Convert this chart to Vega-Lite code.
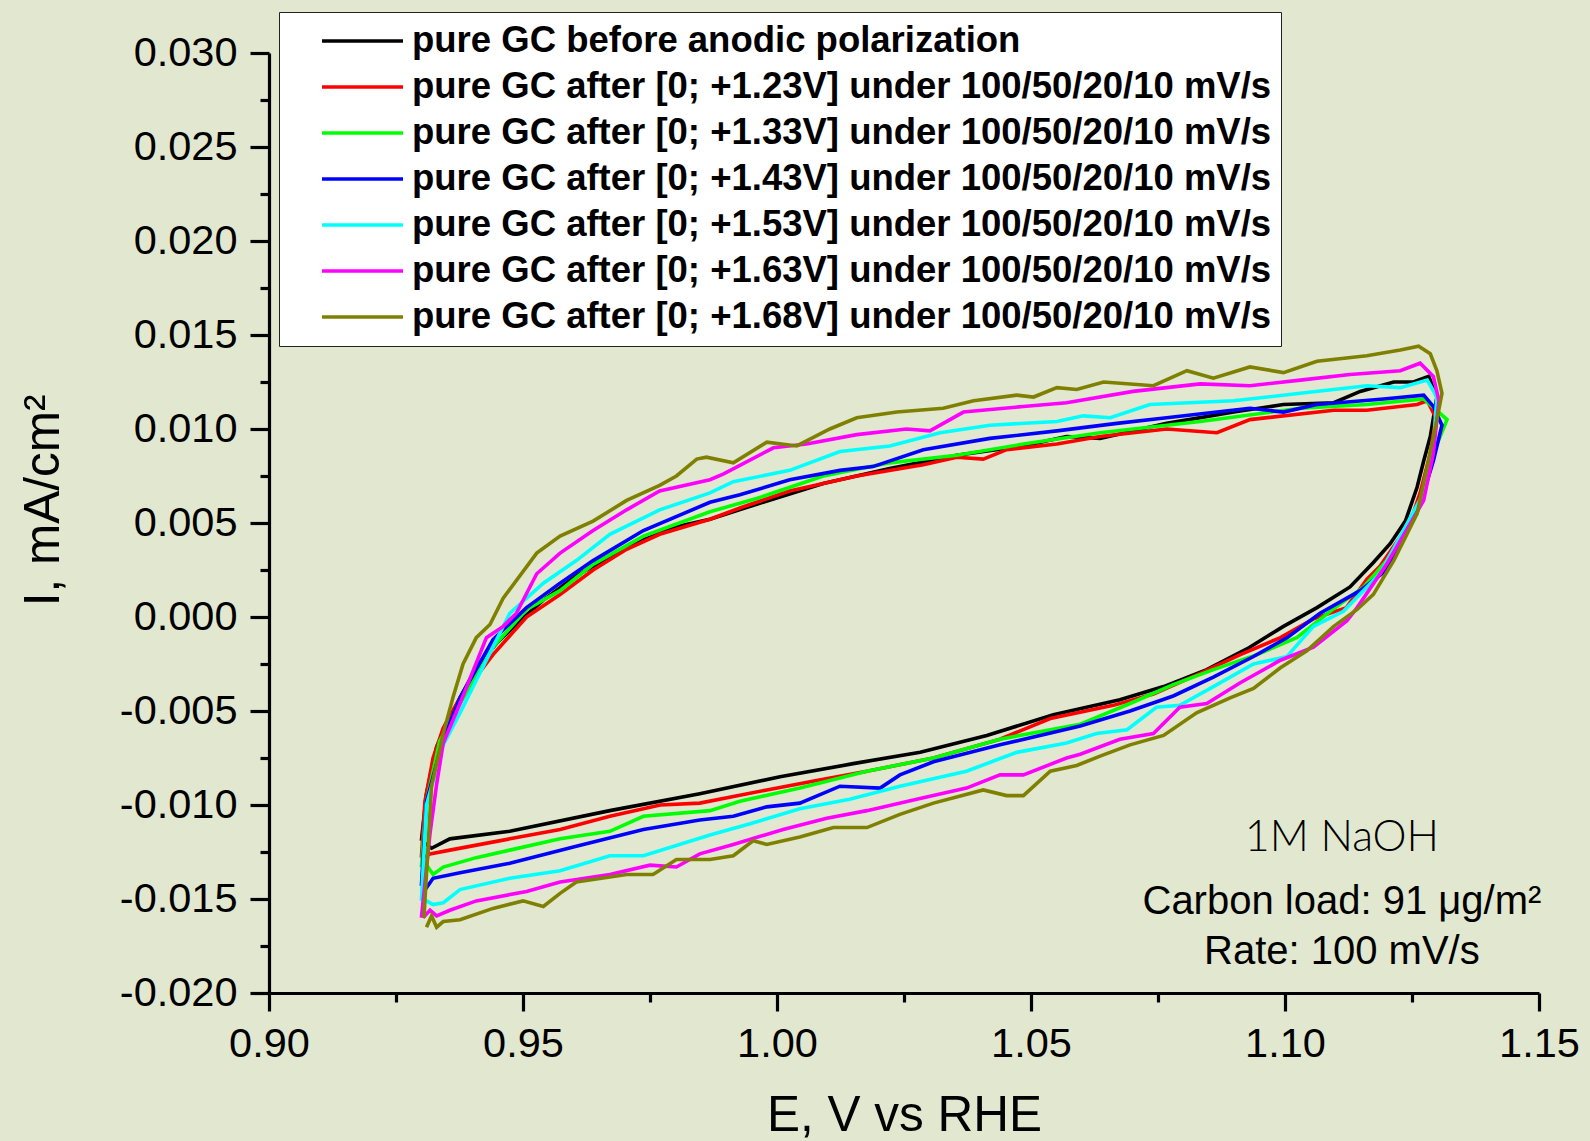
{
"$schema":"https://vega.github.io/schema/vega-lite/v6.json",
"width":1270,"height":940,
"autosize":{"type":"none"},
"padding":{"left":269,"top":53,"right":51,"bottom":148},
"background":"#E2E8CF",
"config":{"view":{"stroke":null},"axis":{"grid":false,"labelFont":"Liberation Sans","labelFontSize":41.5,"labelColor":"black","domainColor":"black","tickColor":"black","domainWidth":3,"tickWidth":3,"labelFlush":false,"labelOverlap":false,"labelBound":false,"titleFont":"Liberation Sans","titleFontSize":49.5,"titleFontWeight":"normal","titleColor":"black"}},
"datasets":{
"names":[
{"k":"a","series":"pure GC before anodic polarization"},
{"k":"b","series":"pure GC after [0; +1.23V] under 100/50/20/10 mV/s"},
{"k":"c","series":"pure GC after [0; +1.33V] under 100/50/20/10 mV/s"},
{"k":"d","series":"pure GC after [0; +1.43V] under 100/50/20/10 mV/s"},
{"k":"e","series":"pure GC after [0; +1.53V] under 100/50/20/10 mV/s"},
{"k":"f","series":"pure GC after [0; +1.63V] under 100/50/20/10 mV/s"},
{"k":"g","series":"pure GC after [0; +1.68V] under 100/50/20/10 mV/s"}],
"notes1":[{"E":1.1112,"I":-0.01246,"t":"1M NaOH"}],
"notes2":[{"E":1.1112,"I":-0.01581,"t":"Carbon load: 91 μg/m²"},{"E":1.1112,"I":-0.01847,"t":"Rate: 100 mV/s"}],
"cv":[
{"k":"a","o":1,"E":0.9300,"I":-0.0119},{"k":"a","o":2,"E":0.9310,"I":-0.0094},{"k":"a","o":3,"E":0.9330,"I":-0.0069},{"k":"a","o":4,"E":0.9349,"I":-0.0058},{"k":"a","o":5,"E":0.9376,"I":-0.0043},{"k":"a","o":6,"E":0.9408,"I":-0.0027},{"k":"a","o":7,"E":0.9448,"I":-0.0014},{"k":"a","o":8,"E":0.9494,"I":-0.0002},{"k":"a","o":9,"E":0.9540,"I":0.0009},{"k":"a","o":10,"E":0.9605,"I":0.0022},{"k":"a","o":11,"E":0.9671,"I":0.0032},{"k":"a","o":12,"E":0.9737,"I":0.0041},{"k":"a","o":13,"E":0.9802,"I":0.0048},{"k":"a","o":14,"E":0.9868,"I":0.0052},{"k":"a","o":15,"E":0.9960,"I":0.0060},{"k":"a","o":16,"E":1.0091,"I":0.0071},{"k":"a","o":17,"E":1.0222,"I":0.0079},{"k":"a","o":18,"E":1.0354,"I":0.0086},{"k":"a","o":19,"E":1.0485,"I":0.0091},{"k":"a","o":20,"E":1.0570,"I":0.0096},{"k":"a","o":21,"E":1.0636,"I":0.0095},{"k":"a","o":22,"E":1.0767,"I":0.0103},{"k":"a","o":23,"E":1.0899,"I":0.0109},{"k":"a","o":24,"E":1.0997,"I":0.0113},{"k":"a","o":25,"E":1.1096,"I":0.0114},{"k":"a","o":26,"E":1.1148,"I":0.0120},{"k":"a","o":27,"E":1.1214,"I":0.0125},{"k":"a","o":28,"E":1.1253,"I":0.0125},{"k":"a","o":29,"E":1.1283,"I":0.0128},{"k":"a","o":30,"E":1.1299,"I":0.0117},{"k":"a","o":31,"E":1.1286,"I":0.0096},{"k":"a","o":32,"E":1.1273,"I":0.0083},{"k":"a","o":33,"E":1.1260,"I":0.0069},{"k":"a","o":34,"E":1.1237,"I":0.0051},{"k":"a","o":35,"E":1.1207,"I":0.0039},{"k":"a","o":36,"E":1.1174,"I":0.0029},{"k":"a","o":37,"E":1.1128,"I":0.0016},{"k":"a","o":38,"E":1.1063,"I":0.0005},{"k":"a","o":39,"E":1.0997,"I":-0.0005},{"k":"a","o":40,"E":1.0925,"I":-0.0017},{"k":"a","o":41,"E":1.0846,"I":-0.0028},{"k":"a","o":42,"E":1.0761,"I":-0.0037},{"k":"a","o":43,"E":1.0675,"I":-0.0044},{"k":"a","o":44,"E":1.0544,"I":-0.0052},{"k":"a","o":45,"E":1.0413,"I":-0.0063},{"k":"a","o":46,"E":1.0282,"I":-0.0072},{"k":"a","o":47,"E":1.0150,"I":-0.0078},{"k":"a","o":48,"E":1.0006,"I":-0.0085},{"k":"a","o":49,"E":0.9848,"I":-0.0094},{"k":"a","o":50,"E":0.9671,"I":-0.0103},{"k":"a","o":51,"E":0.9474,"I":-0.0114},{"k":"a","o":52,"E":0.9356,"I":-0.0118},{"k":"a","o":53,"E":0.9320,"I":-0.0123},{"k":"a","o":54,"E":0.9305,"I":-0.0120},
{"k":"b","o":1,"E":0.9300,"I":-0.0128},{"k":"b","o":2,"E":0.9307,"I":-0.0098},{"k":"b","o":3,"E":0.9323,"I":-0.0075},{"k":"b","o":4,"E":0.9343,"I":-0.0059},{"k":"b","o":5,"E":0.9376,"I":-0.0043},{"k":"b","o":6,"E":0.9441,"I":-0.0020},{"k":"b","o":7,"E":0.9507,"I":0.0000},{"k":"b","o":8,"E":0.9573,"I":0.0012},{"k":"b","o":9,"E":0.9638,"I":0.0025},{"k":"b","o":10,"E":0.9704,"I":0.0036},{"k":"b","o":11,"E":0.9769,"I":0.0044},{"k":"b","o":12,"E":0.9868,"I":0.0052},{"k":"b","o":13,"E":0.9927,"I":0.0058},{"k":"b","o":14,"E":1.0025,"I":0.0067},{"k":"b","o":15,"E":1.0157,"I":0.0075},{"k":"b","o":16,"E":1.0288,"I":0.0081},{"k":"b","o":17,"E":1.0354,"I":0.0085},{"k":"b","o":18,"E":1.0406,"I":0.0084},{"k":"b","o":19,"E":1.0452,"I":0.0089},{"k":"b","o":20,"E":1.0551,"I":0.0092},{"k":"b","o":21,"E":1.0636,"I":0.0096},{"k":"b","o":22,"E":1.0767,"I":0.0100},{"k":"b","o":23,"E":1.0866,"I":0.0098},{"k":"b","o":24,"E":1.0931,"I":0.0105},{"k":"b","o":25,"E":1.1096,"I":0.0110},{"k":"b","o":26,"E":1.1161,"I":0.0110},{"k":"b","o":27,"E":1.1260,"I":0.0113},{"k":"b","o":28,"E":1.1280,"I":0.0115},{"k":"b","o":29,"E":1.1297,"I":0.0106},{"k":"b","o":30,"E":1.1286,"I":0.0087},{"k":"b","o":31,"E":1.1266,"I":0.0066},{"k":"b","o":32,"E":1.1246,"I":0.0050},{"k":"b","o":33,"E":1.1187,"I":0.0027},{"k":"b","o":34,"E":1.1161,"I":0.0020},{"k":"b","o":35,"E":1.1121,"I":0.0005},{"k":"b","o":36,"E":1.1056,"I":-0.0001},{"k":"b","o":37,"E":1.0991,"I":-0.0011},{"k":"b","o":38,"E":1.0912,"I":-0.0020},{"k":"b","o":39,"E":1.0833,"I":-0.0030},{"k":"b","o":40,"E":1.0741,"I":-0.0041},{"k":"b","o":41,"E":1.0662,"I":-0.0047},{"k":"b","o":42,"E":1.0538,"I":-0.0054},{"k":"b","o":43,"E":1.0439,"I":-0.0065},{"k":"b","o":44,"E":1.0308,"I":-0.0075},{"k":"b","o":45,"E":1.0177,"I":-0.0082},{"k":"b","o":46,"E":1.0078,"I":-0.0087},{"k":"b","o":47,"E":0.9980,"I":-0.0092},{"k":"b","o":48,"E":0.9848,"I":-0.0099},{"k":"b","o":49,"E":0.9770,"I":-0.0100},{"k":"b","o":50,"E":0.9671,"I":-0.0106},{"k":"b","o":51,"E":0.9573,"I":-0.0113},{"k":"b","o":52,"E":0.9474,"I":-0.0118},{"k":"b","o":53,"E":0.9356,"I":-0.0124},{"k":"b","o":54,"E":0.9317,"I":-0.0126},{"k":"b","o":55,"E":0.9302,"I":-0.0128},
{"k":"c","o":1,"E":0.9300,"I":-0.0133},{"k":"c","o":2,"E":0.9310,"I":-0.0098},{"k":"c","o":3,"E":0.9336,"I":-0.0066},{"k":"c","o":4,"E":0.9376,"I":-0.0046},{"k":"c","o":5,"E":0.9441,"I":-0.0016},{"k":"c","o":6,"E":0.9507,"I":0.0004},{"k":"c","o":7,"E":0.9573,"I":0.0014},{"k":"c","o":8,"E":0.9638,"I":0.0028},{"k":"c","o":9,"E":0.9737,"I":0.0043},{"k":"c","o":10,"E":0.9868,"I":0.0056},{"k":"c","o":11,"E":0.9960,"I":0.0063},{"k":"c","o":12,"E":1.0091,"I":0.0075},{"k":"c","o":13,"E":1.0222,"I":0.0082},{"k":"c","o":14,"E":1.0354,"I":0.0086},{"k":"c","o":15,"E":1.0485,"I":0.0092},{"k":"c","o":16,"E":1.0636,"I":0.0098},{"k":"c","o":17,"E":1.0833,"I":0.0104},{"k":"c","o":18,"E":1.1030,"I":0.0111},{"k":"c","o":19,"E":1.1161,"I":0.0113},{"k":"c","o":20,"E":1.1273,"I":0.0116},{"k":"c","o":21,"E":1.1319,"I":0.0105},{"k":"c","o":22,"E":1.1292,"I":0.0087},{"k":"c","o":23,"E":1.1273,"I":0.0069},{"k":"c","o":24,"E":1.1260,"I":0.0055},{"k":"c","o":25,"E":1.1200,"I":0.0030},{"k":"c","o":26,"E":1.1155,"I":0.0016},{"k":"c","o":27,"E":1.1089,"I":0.0003},{"k":"c","o":28,"E":1.1023,"I":-0.0011},{"k":"c","o":29,"E":1.0945,"I":-0.0020},{"k":"c","o":30,"E":1.0859,"I":-0.0028},{"k":"c","o":31,"E":1.0780,"I":-0.0036},{"k":"c","o":32,"E":1.0695,"I":-0.0046},{"k":"c","o":33,"E":1.0597,"I":-0.0057},{"k":"c","o":34,"E":1.0439,"I":-0.0065},{"k":"c","o":35,"E":1.0308,"I":-0.0075},{"k":"c","o":36,"E":1.0177,"I":-0.0082},{"k":"c","o":37,"E":1.0045,"I":-0.0091},{"k":"c","o":38,"E":0.9927,"I":-0.0098},{"k":"c","o":39,"E":0.9868,"I":-0.0103},{"k":"c","o":40,"E":0.9737,"I":-0.0106},{"k":"c","o":41,"E":0.9671,"I":-0.0114},{"k":"c","o":42,"E":0.9573,"I":-0.0118},{"k":"c","o":43,"E":0.9474,"I":-0.0124},{"k":"c","o":44,"E":0.9408,"I":-0.0128},{"k":"c","o":45,"E":0.9343,"I":-0.0133},{"k":"c","o":46,"E":0.9323,"I":-0.0137},{"k":"c","o":47,"E":0.9313,"I":-0.0133},{"k":"c","o":48,"E":0.9302,"I":-0.0134},
{"k":"d","o":1,"E":0.9300,"I":-0.0143},{"k":"d","o":2,"E":0.9310,"I":-0.0098},{"k":"d","o":3,"E":0.9343,"I":-0.0065},{"k":"d","o":4,"E":0.9376,"I":-0.0043},{"k":"d","o":5,"E":0.9441,"I":-0.0012},{"k":"d","o":6,"E":0.9507,"I":0.0005},{"k":"d","o":7,"E":0.9573,"I":0.0018},{"k":"d","o":8,"E":0.9638,"I":0.0030},{"k":"d","o":9,"E":0.9737,"I":0.0046},{"k":"d","o":10,"E":0.9868,"I":0.0061},{"k":"d","o":11,"E":0.9927,"I":0.0065},{"k":"d","o":12,"E":1.0025,"I":0.0073},{"k":"d","o":13,"E":1.0124,"I":0.0078},{"k":"d","o":14,"E":1.0189,"I":0.0080},{"k":"d","o":15,"E":1.0288,"I":0.0089},{"k":"d","o":16,"E":1.0419,"I":0.0095},{"k":"d","o":17,"E":1.0551,"I":0.0099},{"k":"d","o":18,"E":1.0669,"I":0.0103},{"k":"d","o":19,"E":1.0767,"I":0.0106},{"k":"d","o":20,"E":1.0866,"I":0.0109},{"k":"d","o":21,"E":1.0931,"I":0.0111},{"k":"d","o":22,"E":1.0997,"I":0.0109},{"k":"d","o":23,"E":1.1063,"I":0.0113},{"k":"d","o":24,"E":1.1194,"I":0.0116},{"k":"d","o":25,"E":1.1273,"I":0.0118},{"k":"d","o":26,"E":1.1292,"I":0.0112},{"k":"d","o":27,"E":1.1309,"I":0.0102},{"k":"d","o":28,"E":1.1292,"I":0.0083},{"k":"d","o":29,"E":1.1273,"I":0.0066},{"k":"d","o":30,"E":1.1200,"I":0.0025},{"k":"d","o":31,"E":1.1148,"I":0.0014},{"k":"d","o":32,"E":1.1069,"I":0.0002},{"k":"d","o":33,"E":1.1004,"I":-0.0011},{"k":"d","o":34,"E":1.0938,"I":-0.0021},{"k":"d","o":35,"E":1.0859,"I":-0.0032},{"k":"d","o":36,"E":1.0780,"I":-0.0042},{"k":"d","o":37,"E":1.0695,"I":-0.0050},{"k":"d","o":38,"E":1.0597,"I":-0.0058},{"k":"d","o":39,"E":1.0439,"I":-0.0068},{"k":"d","o":40,"E":1.0308,"I":-0.0077},{"k":"d","o":41,"E":1.0242,"I":-0.0084},{"k":"d","o":42,"E":1.0203,"I":-0.0091},{"k":"d","o":43,"E":1.0124,"I":-0.0090},{"k":"d","o":44,"E":1.0045,"I":-0.0099},{"k":"d","o":45,"E":0.9980,"I":-0.0101},{"k":"d","o":46,"E":0.9914,"I":-0.0106},{"k":"d","o":47,"E":0.9848,"I":-0.0108},{"k":"d","o":48,"E":0.9737,"I":-0.0113},{"k":"d","o":49,"E":0.9605,"I":-0.0122},{"k":"d","o":50,"E":0.9474,"I":-0.0131},{"k":"d","o":51,"E":0.9376,"I":-0.0136},{"k":"d","o":52,"E":0.9323,"I":-0.0139},{"k":"d","o":53,"E":0.9310,"I":-0.0144},{"k":"d","o":54,"E":0.9302,"I":-0.0143},
{"k":"e","o":1,"E":0.9300,"I":-0.0151},{"k":"e","o":2,"E":0.9310,"I":-0.0100},{"k":"e","o":3,"E":0.9343,"I":-0.0068},{"k":"e","o":4,"E":0.9376,"I":-0.0051},{"k":"e","o":5,"E":0.9474,"I":0.0002},{"k":"e","o":6,"E":0.9540,"I":0.0018},{"k":"e","o":7,"E":0.9605,"I":0.0030},{"k":"e","o":8,"E":0.9671,"I":0.0044},{"k":"e","o":9,"E":0.9769,"I":0.0057},{"k":"e","o":10,"E":0.9868,"I":0.0066},{"k":"e","o":11,"E":0.9914,"I":0.0072},{"k":"e","o":12,"E":1.0025,"I":0.0078},{"k":"e","o":13,"E":1.0124,"I":0.0088},{"k":"e","o":14,"E":1.0222,"I":0.0091},{"k":"e","o":15,"E":1.0321,"I":0.0098},{"k":"e","o":16,"E":1.0419,"I":0.0102},{"k":"e","o":17,"E":1.0551,"I":0.0104},{"k":"e","o":18,"E":1.0603,"I":0.0107},{"k":"e","o":19,"E":1.0656,"I":0.0106},{"k":"e","o":20,"E":1.0734,"I":0.0113},{"k":"e","o":21,"E":1.0899,"I":0.0115},{"k":"e","o":22,"E":1.1030,"I":0.0119},{"k":"e","o":23,"E":1.1161,"I":0.0123},{"k":"e","o":24,"E":1.1227,"I":0.0122},{"k":"e","o":25,"E":1.1280,"I":0.0126},{"k":"e","o":26,"E":1.1299,"I":0.0117},{"k":"e","o":27,"E":1.1292,"I":0.0090},{"k":"e","o":28,"E":1.1273,"I":0.0066},{"k":"e","o":29,"E":1.1187,"I":0.0023},{"k":"e","o":30,"E":1.1115,"I":0.0003},{"k":"e","o":31,"E":1.1056,"I":-0.0005},{"k":"e","o":32,"E":1.1004,"I":-0.0021},{"k":"e","o":33,"E":1.0938,"I":-0.0025},{"k":"e","o":34,"E":1.0859,"I":-0.0037},{"k":"e","o":35,"E":1.0793,"I":-0.0047},{"k":"e","o":36,"E":1.0747,"I":-0.0048},{"k":"e","o":37,"E":1.0689,"I":-0.0060},{"k":"e","o":38,"E":1.0629,"I":-0.0062},{"k":"e","o":39,"E":1.0570,"I":-0.0067},{"k":"e","o":40,"E":1.0472,"I":-0.0072},{"k":"e","o":41,"E":1.0373,"I":-0.0082},{"k":"e","o":42,"E":1.0242,"I":-0.0090},{"k":"e","o":43,"E":1.0143,"I":-0.0097},{"k":"e","o":44,"E":1.0045,"I":-0.0102},{"k":"e","o":45,"E":0.9947,"I":-0.0110},{"k":"e","o":46,"E":0.9868,"I":-0.0116},{"k":"e","o":47,"E":0.9737,"I":-0.0127},{"k":"e","o":48,"E":0.9671,"I":-0.0127},{"k":"e","o":49,"E":0.9573,"I":-0.0135},{"k":"e","o":50,"E":0.9474,"I":-0.0139},{"k":"e","o":51,"E":0.9376,"I":-0.0145},{"k":"e","o":52,"E":0.9343,"I":-0.0152},{"k":"e","o":53,"E":0.9323,"I":-0.0153},{"k":"e","o":54,"E":0.9310,"I":-0.0151},{"k":"e","o":55,"E":0.9302,"I":-0.0151},
{"k":"f","o":1,"E":0.9300,"I":-0.0160},{"k":"f","o":2,"E":0.9317,"I":-0.0115},{"k":"f","o":3,"E":0.9330,"I":-0.0089},{"k":"f","o":4,"E":0.9343,"I":-0.0067},{"k":"f","o":5,"E":0.9376,"I":-0.0046},{"k":"f","o":6,"E":0.9428,"I":-0.0011},{"k":"f","o":7,"E":0.9461,"I":-0.0005},{"k":"f","o":8,"E":0.9487,"I":0.0002},{"k":"f","o":9,"E":0.9527,"I":0.0023},{"k":"f","o":10,"E":0.9573,"I":0.0034},{"k":"f","o":11,"E":0.9638,"I":0.0046},{"k":"f","o":12,"E":0.9704,"I":0.0057},{"k":"f","o":13,"E":0.9769,"I":0.0067},{"k":"f","o":14,"E":0.9868,"I":0.0073},{"k":"f","o":15,"E":0.9894,"I":0.0076},{"k":"f","o":16,"E":0.9993,"I":0.0090},{"k":"f","o":17,"E":1.0058,"I":0.0092},{"k":"f","o":18,"E":1.0157,"I":0.0097},{"k":"f","o":19,"E":1.0255,"I":0.0100},{"k":"f","o":20,"E":1.0301,"I":0.0099},{"k":"f","o":21,"E":1.0367,"I":0.0109},{"k":"f","o":22,"E":1.0485,"I":0.0112},{"k":"f","o":23,"E":1.0570,"I":0.0114},{"k":"f","o":24,"E":1.0701,"I":0.0120},{"k":"f","o":25,"E":1.0833,"I":0.0124},{"k":"f","o":26,"E":1.0931,"I":0.0123},{"k":"f","o":27,"E":1.1030,"I":0.0126},{"k":"f","o":28,"E":1.1128,"I":0.0129},{"k":"f","o":29,"E":1.1227,"I":0.0131},{"k":"f","o":30,"E":1.1266,"I":0.0135},{"k":"f","o":31,"E":1.1292,"I":0.0128},{"k":"f","o":32,"E":1.1303,"I":0.0115},{"k":"f","o":33,"E":1.1292,"I":0.0087},{"k":"f","o":34,"E":1.1273,"I":0.0062},{"k":"f","o":35,"E":1.1200,"I":0.0028},{"k":"f","o":36,"E":1.1142,"I":0.0005},{"k":"f","o":37,"E":1.1122,"I":-0.0002},{"k":"f","o":38,"E":1.1056,"I":-0.0016},{"k":"f","o":39,"E":1.0991,"I":-0.0023},{"k":"f","o":40,"E":1.0912,"I":-0.0035},{"k":"f","o":41,"E":1.0846,"I":-0.0046},{"k":"f","o":42,"E":1.0793,"I":-0.0048},{"k":"f","o":43,"E":1.0741,"I":-0.0062},{"k":"f","o":44,"E":1.0675,"I":-0.0065},{"k":"f","o":45,"E":1.0597,"I":-0.0073},{"k":"f","o":46,"E":1.0570,"I":-0.0075},{"k":"f","o":47,"E":1.0485,"I":-0.0084},{"k":"f","o":48,"E":1.0439,"I":-0.0084},{"k":"f","o":49,"E":1.0373,"I":-0.0091},{"k":"f","o":50,"E":1.0275,"I":-0.0097},{"k":"f","o":51,"E":1.0177,"I":-0.0103},{"k":"f","o":52,"E":1.0098,"I":-0.0107},{"k":"f","o":53,"E":1.0012,"I":-0.0113},{"k":"f","o":54,"E":0.9914,"I":-0.0121},{"k":"f","o":55,"E":0.9848,"I":-0.0126},{"k":"f","o":56,"E":0.9802,"I":-0.0133},{"k":"f","o":57,"E":0.9750,"I":-0.0132},{"k":"f","o":58,"E":0.9671,"I":-0.0137},{"k":"f","o":59,"E":0.9573,"I":-0.0141},{"k":"f","o":60,"E":0.9507,"I":-0.0146},{"k":"f","o":61,"E":0.9408,"I":-0.0151},{"k":"f","o":62,"E":0.9356,"I":-0.0156},{"k":"f","o":63,"E":0.9330,"I":-0.0159},{"k":"f","o":64,"E":0.9317,"I":-0.0156},{"k":"f","o":65,"E":0.9303,"I":-0.0160},
{"k":"g","o":1,"E":0.9305,"I":-0.0160},{"k":"g","o":2,"E":0.9320,"I":-0.0090},{"k":"g","o":3,"E":0.9343,"I":-0.0062},{"k":"g","o":4,"E":0.9362,"I":-0.0043},{"k":"g","o":5,"E":0.9382,"I":-0.0025},{"k":"g","o":6,"E":0.9408,"I":-0.0011},{"k":"g","o":7,"E":0.9435,"I":-0.0004},{"k":"g","o":8,"E":0.9461,"I":0.0010},{"k":"g","o":9,"E":0.9527,"I":0.0034},{"k":"g","o":10,"E":0.9573,"I":0.0043},{"k":"g","o":11,"E":0.9638,"I":0.0051},{"k":"g","o":12,"E":0.9704,"I":0.0062},{"k":"g","o":13,"E":0.9769,"I":0.0070},{"k":"g","o":14,"E":0.9802,"I":0.0075},{"k":"g","o":15,"E":0.9842,"I":0.0084},{"k":"g","o":16,"E":0.9861,"I":0.0085},{"k":"g","o":17,"E":0.9914,"I":0.0082},{"k":"g","o":18,"E":0.9980,"I":0.0093},{"k":"g","o":19,"E":1.0039,"I":0.0091},{"k":"g","o":20,"E":1.0104,"I":0.0100},{"k":"g","o":21,"E":1.0157,"I":0.0106},{"k":"g","o":22,"E":1.0236,"I":0.0109},{"k":"g","o":23,"E":1.0327,"I":0.0111},{"k":"g","o":24,"E":1.0387,"I":0.0115},{"k":"g","o":25,"E":1.0472,"I":0.0118},{"k":"g","o":26,"E":1.0505,"I":0.0117},{"k":"g","o":27,"E":1.0551,"I":0.0122},{"k":"g","o":28,"E":1.0590,"I":0.0121},{"k":"g","o":29,"E":1.0643,"I":0.0125},{"k":"g","o":30,"E":1.0741,"I":0.0123},{"k":"g","o":31,"E":1.0807,"I":0.0131},{"k":"g","o":32,"E":1.0859,"I":0.0127},{"k":"g","o":33,"E":1.0931,"I":0.0133},{"k":"g","o":34,"E":1.0997,"I":0.0130},{"k":"g","o":35,"E":1.1063,"I":0.0136},{"k":"g","o":36,"E":1.1161,"I":0.0139},{"k":"g","o":37,"E":1.1227,"I":0.0142},{"k":"g","o":38,"E":1.1263,"I":0.0144},{"k":"g","o":39,"E":1.1286,"I":0.0140},{"k":"g","o":40,"E":1.1299,"I":0.0131},{"k":"g","o":41,"E":1.1309,"I":0.0119},{"k":"g","o":42,"E":1.1299,"I":0.0105},{"k":"g","o":43,"E":1.1280,"I":0.0080},{"k":"g","o":44,"E":1.1260,"I":0.0055},{"k":"g","o":45,"E":1.1240,"I":0.0044},{"k":"g","o":46,"E":1.1214,"I":0.0030},{"k":"g","o":47,"E":1.1174,"I":0.0012},{"k":"g","o":48,"E":1.1142,"I":0.0004},{"k":"g","o":49,"E":1.1096,"I":-0.0005},{"k":"g","o":50,"E":1.1043,"I":-0.0018},{"k":"g","o":51,"E":1.0991,"I":-0.0027},{"k":"g","o":52,"E":1.0938,"I":-0.0038},{"k":"g","o":53,"E":1.0892,"I":-0.0043},{"k":"g","o":54,"E":1.0826,"I":-0.0051},{"k":"g","o":55,"E":1.0761,"I":-0.0063},{"k":"g","o":56,"E":1.0695,"I":-0.0068},{"k":"g","o":57,"E":1.0636,"I":-0.0074},{"k":"g","o":58,"E":1.0590,"I":-0.0079},{"k":"g","o":59,"E":1.0538,"I":-0.0082},{"k":"g","o":60,"E":1.0485,"I":-0.0095},{"k":"g","o":61,"E":1.0452,"I":-0.0095},{"k":"g","o":62,"E":1.0406,"I":-0.0092},{"k":"g","o":63,"E":1.0308,"I":-0.0099},{"k":"g","o":64,"E":1.0242,"I":-0.0105},{"k":"g","o":65,"E":1.0177,"I":-0.0112},{"k":"g","o":66,"E":1.0111,"I":-0.0112},{"k":"g","o":67,"E":1.0045,"I":-0.0117},{"k":"g","o":68,"E":0.9980,"I":-0.0121},{"k":"g","o":69,"E":0.9953,"I":-0.0119},{"k":"g","o":70,"E":0.9914,"I":-0.0127},{"k":"g","o":71,"E":0.9868,"I":-0.0129},{"k":"g","o":72,"E":0.9802,"I":-0.0129},{"k":"g","o":73,"E":0.9756,"I":-0.0137},{"k":"g","o":74,"E":0.9704,"I":-0.0137},{"k":"g","o":75,"E":0.9605,"I":-0.0141},{"k":"g","o":76,"E":0.9573,"I":-0.0147},{"k":"g","o":77,"E":0.9540,"I":-0.0154},{"k":"g","o":78,"E":0.9500,"I":-0.0151},{"k":"g","o":79,"E":0.9441,"I":-0.0155},{"k":"g","o":80,"E":0.9376,"I":-0.0161},{"k":"g","o":81,"E":0.9343,"I":-0.0162},{"k":"g","o":82,"E":0.9330,"I":-0.0165},{"k":"g","o":83,"E":0.9320,"I":-0.0159},{"k":"g","o":84,"E":0.9310,"I":-0.0165}
]},
"layer":[
{"data":{"name":"cv"},
 "transform":[{"lookup":"k","from":{"data":{"name":"names"},"key":"k","fields":["series"]}}],
 "mark":{"type":"line","strokeWidth":3.6,"clip":false},
 "encoding":{
  "x":{"field":"E","type":"quantitative","scale":{"domain":[0.9,1.15],"nice":false,"zero":false},
       "axis":{"orient":"bottom","values":[0.9,0.95,1.0,1.05,1.1,1.15],"format":".2f","tickSize":18,"tickWidth":3.2,"domainWidth":3.2,"labelPadding":12,"title":"E, V vs RHE","titleY":137,"titleBaseline":"alphabetic"}},
  "y":{"field":"I","type":"quantitative","scale":{"domain":[-0.02,0.03],"nice":false,"zero":false},
       "axis":{"orient":"left","values":[-0.02,-0.015,-0.01,-0.005,0,0.005,0.01,0.015,0.02,0.025,0.03],"format":".3f","labelExpr":"replace(datum.label,'−','-')","tickSize":19,"tickWidth":3.2,"domainWidth":3.2,"labelPadding":13,"title":"I, mA/cm²","titleAngle":270,"titleX":-211,"titleY":447,"titleBaseline":"alphabetic","titleAlign":"center"}},
  "color":{"field":"series","type":"nominal",
   "scale":{"domain":["pure GC before anodic polarization","pure GC after [0; +1.23V] under 100/50/20/10 mV/s","pure GC after [0; +1.33V] under 100/50/20/10 mV/s","pure GC after [0; +1.43V] under 100/50/20/10 mV/s","pure GC after [0; +1.53V] under 100/50/20/10 mV/s","pure GC after [0; +1.63V] under 100/50/20/10 mV/s","pure GC after [0; +1.68V] under 100/50/20/10 mV/s"],
            "range":["#000000","#FF0000","#00FF00","#0000FF","#00FFFF","#FF00FF","#808000"]},
   "legend":{"orient":"none","legendX":10,"legendY":-41,"direction":"vertical","title":null,"symbolType":"stroke","symbolSize":6561,"symbolStrokeWidth":3.6,"symbolOffset":32,"labelOffset":7,"clipHeight":40,"rowPadding":6,"padding":9,"labelFont":"Liberation Sans","labelFontSize":36.5,"labelFontWeight":"bold","labelColor":"black","labelLimit":2000,"fillColor":"white","strokeColor":"#222222"}},
  "order":{"field":"o","type":"quantitative"}
 }},
{"data":{"name":"notes1"},
 "mark":{"type":"text","font":"Lato","fontSize":43,"fontWeight":300,"align":"center","baseline":"alphabetic","color":"black"},
 "encoding":{
  "x":{"field":"E","type":"quantitative","axis":{"orient":"bottom","values":[0.925,0.975,1.025,1.075,1.125],"tickSize":9,"tickWidth":3.2,"labels":false,"domain":false,"title":null}},
  "y":{"field":"I","type":"quantitative","axis":{"orient":"left","values":[-0.0175,-0.0125,-0.0075,-0.0025,0.0025,0.0075,0.0125,0.0175,0.0225,0.0275],"tickSize":9,"tickWidth":3.2,"labels":false,"domain":false,"title":null}},
  "text":{"field":"t"}}},
{"data":{"name":"notes2"},
 "mark":{"type":"text","font":"Liberation Sans","fontSize":40,"align":"center","baseline":"alphabetic","color":"black"},
 "encoding":{
  "x":{"field":"E","type":"quantitative","axis":null},
  "y":{"field":"I","type":"quantitative","axis":null},
  "text":{"field":"t"}}}
],
"resolve":{"axis":{"x":"independent","y":"independent"}}
}
